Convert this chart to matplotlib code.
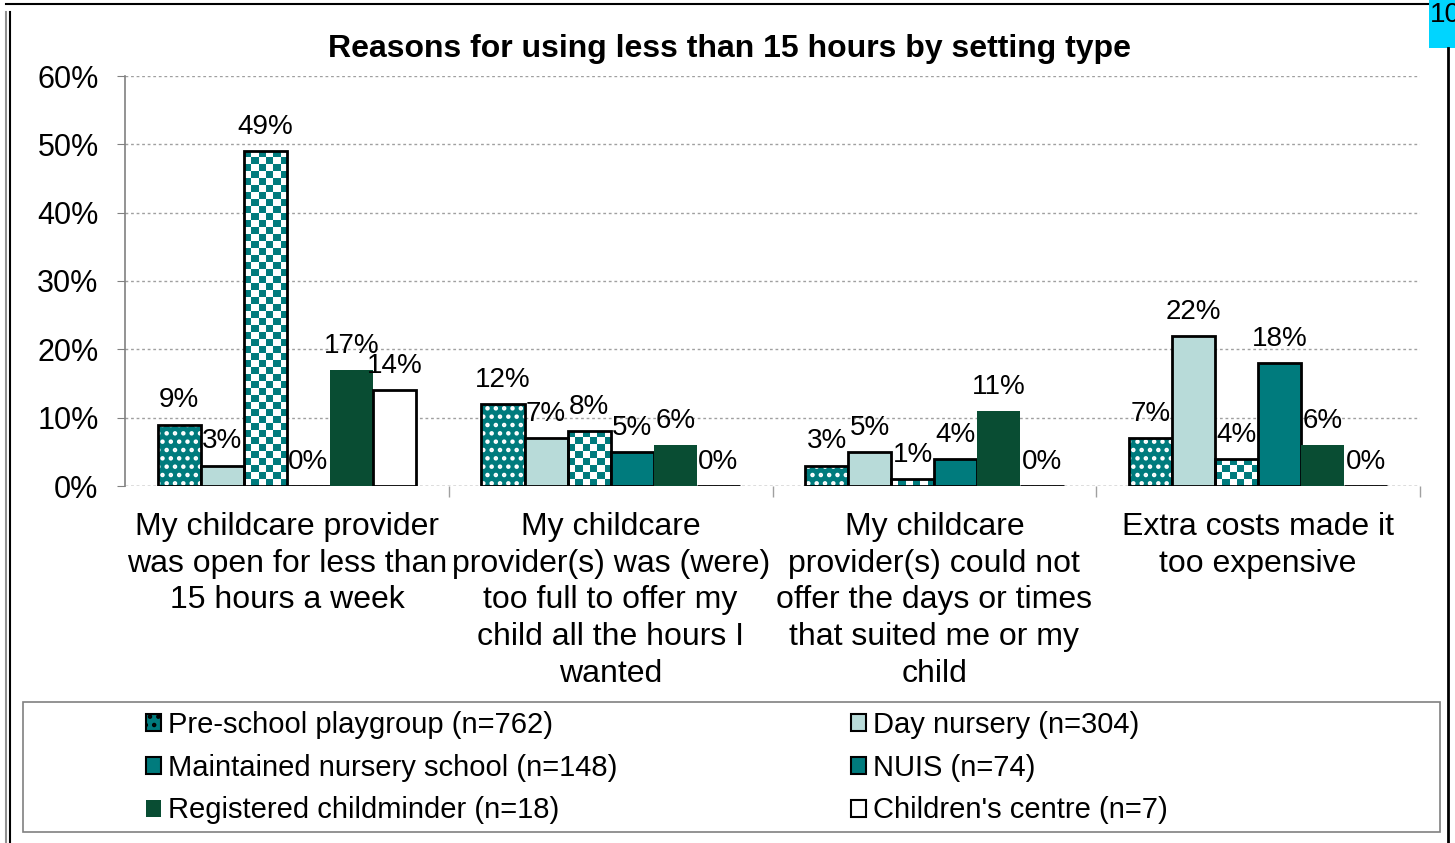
import numpy as np
import matplotlib.pyplot as plt
from matplotlib.patches import Patch, Rectangle
from matplotlib.colors import ListedColormap
from matplotlib.lines import Line2D

plt.rcParams['font.family'] = ['Liberation Sans', 'DejaVu Sans']
plt.rcParams['hatch.linewidth'] = 2.0

# --- data ---
categories = [
    "My childcare provider\nwas open for less than\n15 hours a week",
    "My childcare\nprovider(s) was (were)\ntoo full to offer my\nchild all the hours I\nwanted",
    "My childcare\nprovider(s) could not\noffer the days or times\nthat suited me or my\nchild",
    "Extra costs made it\ntoo expensive",
]
series_names = [
    "Pre-school playgroup (n=762)",
    "Day nursery (n=304)",
    "Maintained nursery school (n=148)",
    "NUIS (n=74)",
    "Registered childminder (n=18)",
    "Children's centre (n=7)",
]
preschool = [9, 12, 3, 7]
day_nursery = [3, 7, 5, 22]
maintained = [49, 8, 1, 4]
nuis = [0, 5, 4, 18]
childminder = [17, 6, 11, 6]
childrens_centre = [14, 0, 0, 0]
yticks = [0, 10, 20, 30, 40, 50, 60]

teal = '#007B7D'
light = '#B8DBD9'
dark = '#094D33'

W, H = 1455, 843
fig = plt.figure(figsize=(W / 100, H / 100), dpi=100)
ax = fig.add_axes([125 / W, 1 - 486 / H, 1295 / W, 410 / H])

x = np.arange(len(categories))
bw = 0.133
offsets = (np.arange(6) - 2.5) * bw
all_series = [preschool, day_nursery, maintained, nuis, childminder, childrens_centre]

ax.set_xlim(-0.5, 3.5)
ax.set_ylim(0, 60)

# pre-school playgroup: teal with white dots
ax.bar(x + offsets[0], preschool, bw, color=teal, edgecolor='white', hatch='..', linewidth=0, zorder=2)
ax.bar(x + offsets[0], preschool, bw, fill=False, edgecolor='black', linewidth=2, zorder=4)
# day nursery
ax.bar(x + offsets[1], day_nursery, bw, color=light, edgecolor='black', linewidth=2, zorder=4)
# maintained nursery school: checkerboard
mrects = ax.bar(x + offsets[2], maintained, bw, color='white', edgecolor='black', linewidth=2, zorder=4)
px_x = 1295 / 4.0
px_y = 410 / 60.0
cell = 7.0
checker = ListedColormap(['white', teal])
for r in mrects:
    h = r.get_height()
    if h <= 0:
        continue
    nx = max(1, int(round(bw * px_x / cell)))
    ny = int(np.ceil(h * px_y / cell))
    grid = (np.add.outer(np.arange(ny), np.arange(nx)) % 2).astype(float)
    im = ax.imshow(grid, cmap=checker, extent=(r.get_x(), r.get_x() + bw, 0, ny * cell / px_y),
                   origin='lower', aspect='auto', interpolation='nearest', zorder=3)
    im.set_clip_path(r)
    r.set_facecolor('none')
# NUIS
ax.bar(x + offsets[3], nuis, bw, color=teal, edgecolor='black', linewidth=2, zorder=4)
# registered childminder
ax.bar(x + offsets[4], childminder, bw, color=dark, linewidth=0, zorder=4)
# children's centre
ax.bar(x + offsets[5], childrens_centre, bw, color='white', edgecolor='black', linewidth=2, zorder=4)

ax.set_xlim(-0.5, 3.5)
ax.set_ylim(0, 60)

# value labels
for k, vals in enumerate(all_series):
    for i, v in enumerate(vals):
        ax.annotate(f"{v}%", (x[i] + offsets[k], v), xytext=(0, 8), textcoords='offset points',
                    ha='center', va='bottom', fontsize=20, zorder=6)

# axes styling
for s in ['top', 'right', 'bottom']:
    ax.spines[s].set_visible(False)
ax.spines['left'].set_color('#808080')
ax.spines['left'].set_linewidth(1.2)
ax.set_yticks(yticks)
ax.set_yticklabels([f"{t}%" for t in yticks], fontsize=22)
ax.tick_params(axis='y', length=6, color='#808080', pad=13)
ax.yaxis.grid(True, linestyle=(0, (2, 2)), color='#A0A0A0', linewidth=1)
ax.set_axisbelow(True)
ax.axhline(0, color='#A0A0A0', linestyle=(0, (2, 2)), linewidth=1, zorder=1)

ax.set_xticks(x)
ax.set_xticklabels(categories, fontsize=23, linespacing=1.3)
ax.tick_params(axis='x', length=0, pad=18.5)
ax.set_xticks([0.5, 1.5, 2.5, 3.5], minor=True)
ax.tick_params(axis='x', which='minor', length=8, color='#A0A0A0', width=1)

ax.set_title("Reasons for using less than 15 hours by setting type", fontsize=23,
             fontweight='bold', pad=14, x=(730 - 125) / 1295)

# legend
handles = [
    Patch(facecolor=teal, edgecolor='black', hatch='..', linewidth=1.5),
    Patch(facecolor=light, edgecolor='black', linewidth=1.5),
    Patch(facecolor=teal, edgecolor='black', linewidth=1.5),
    Patch(facecolor=teal, edgecolor='black', linewidth=1.5),
    Patch(facecolor=dark, edgecolor=dark, linewidth=0),
    Patch(facecolor='white', edgecolor='black', linewidth=1.5),
]
order = [0, 2, 4, 1, 3, 5]
leg = fig.legend([handles[i] for i in order], [series_names[i] for i in order], ncol=2,
                 loc='upper left', bbox_to_anchor=(120 / W, 1 - 685 / H), frameon=False,
                 fontsize=21, handlelength=0.52, handleheight=0.52, handletextpad=0.24,
                 columnspacing=8.0, labelspacing=0.5)

fig.add_artist(Rectangle((23 / W, 1 - 832 / H), 1417 / W, 130 / H, transform=fig.transFigure,
                         fill=False, edgecolor='#808080', linewidth=1.2))

# outer frame
fig.add_artist(Line2D([6 / W, 6 / W], [0, 1 - 12 / H], transform=fig.transFigure, color='#909090', lw=1.5))
fig.add_artist(Line2D([10 / W, 10 / W], [0, 1 - 12 / H], transform=fig.transFigure, color='black', lw=1.5))
fig.add_artist(Line2D([6 / W, 1428 / W], [1 - 4 / H, 1 - 4 / H], transform=fig.transFigure, color='black', lw=1.5))
fig.add_artist(Line2D([1448 / W, 1448 / W], [0, 1 - 48 / H], transform=fig.transFigure, color='black', lw=2))
fig.add_artist(Rectangle((1429 / W, 1 - 48 / H), 26 / W, 48 / H, transform=fig.transFigure,
                         facecolor='#00D5FF', edgecolor='none'))
fig.text(1430 / W, 1 - 2 / H, "10", fontsize=20, va='top', ha='left')

fig.savefig('out.png', dpi=100)
